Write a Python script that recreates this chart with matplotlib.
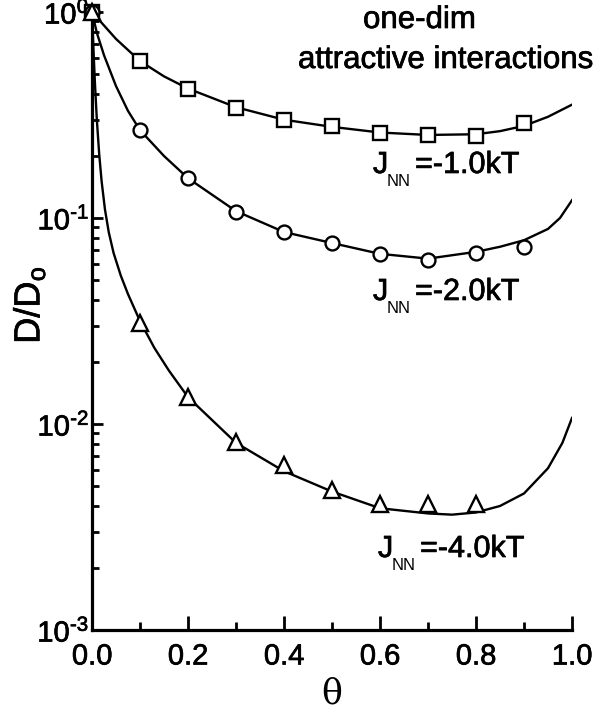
import math
import matplotlib
matplotlib.use("Agg")
import matplotlib.pyplot as plt
import matplotlib.patheffects as pe
from matplotlib.ticker import LogLocator, MultipleLocator, FuncFormatter, NullFormatter

plt.rcParams['font.family'] = ['Liberation Sans', 'DejaVu Sans']
plt.rcParams['mathtext.fontset'] = 'custom'
plt.rcParams['mathtext.rm'] = 'Liberation Sans'
plt.rcParams['mathtext.it'] = 'Liberation Sans:italic'

# --- simulation points ---
theta_sq = [0.0, 0.1, 0.2, 0.3, 0.4, 0.5, 0.6, 0.7, 0.8, 0.9]
d_sq = [1.0, 0.578, 0.423, 0.342, 0.299, 0.280, 0.259, 0.253, 0.250, 0.289]

theta_ci = [0.0, 0.1, 0.2, 0.3, 0.4, 0.5, 0.6, 0.7, 0.8, 0.9]
d_ci = [1.0, 0.267, 0.156, 0.107, 0.0855, 0.0756, 0.0669, 0.0626, 0.0676, 0.0723]

theta_tr = [0.0, 0.1, 0.2, 0.3, 0.4, 0.5, 0.6, 0.7, 0.8]
d_tr = [1.0, 0.031, 0.0135, 0.0082, 0.0063, 0.0048, 0.0041, 0.0041, 0.0041]

# --- theory curves ---
theta_c1 = [0.0, 0.05, 0.1, 0.15, 0.2, 0.3, 0.4, 0.5, 0.6, 0.7, 0.8, 0.85, 0.9,
            0.95, 1.0]
d_c1 = [1.0, 0.74, 0.578, 0.487, 0.425, 0.345, 0.300, 0.277, 0.260, 0.253, 0.255,
        0.264, 0.280, 0.310, 0.355]

theta_c2 = [0.0, 0.01, 0.025, 0.05, 0.075, 0.1, 0.15, 0.2, 0.3, 0.4, 0.5, 0.6, 0.7,
            0.8, 0.85, 0.9, 0.95, 0.975, 1.0]
d_c2 = [1.0, 0.794, 0.617, 0.437, 0.331, 0.267, 0.200, 0.156, 0.108, 0.0855, 0.0756,
        0.067, 0.0635, 0.0685, 0.0725, 0.078, 0.0885, 0.100, 0.122]

theta_c3 = [0.0, 0.003, 0.006, 0.01, 0.015, 0.02, 0.027, 0.035, 0.045, 0.06, 0.075,
            0.1, 0.13, 0.16, 0.2, 0.3, 0.4, 0.5, 0.6, 0.7, 0.75, 0.8, 0.85, 0.9,
            0.95, 0.98, 1.0]
d_c3 = [1.0, 0.661, 0.457, 0.302, 0.204, 0.151, 0.110, 0.0851, 0.0676, 0.0525,
        0.0427, 0.0316, 0.0234, 0.0182, 0.0135, 0.0081, 0.0059, 0.0047, 0.0039,
        0.00368, 0.00363, 0.00372, 0.0040, 0.0046, 0.0061, 0.0081, 0.0107]

W, H = 605, 719
fig = plt.figure(figsize=(W / 100, H / 100), dpi=100)
ax = fig.add_axes([92 / W, 89 / H, 480 / W, 618 / H])

for tx, dy in [(theta_c1, d_c1), (theta_c2, d_c2), (theta_c3, d_c3)]:
    ax.plot(tx, dy, color="black", lw=1.7)

mk = dict(ls="none", mfc="white", mec="black", mew=1.7, clip_on=False, zorder=3)
ax.plot(theta_sq, d_sq, marker="s", ms=10, **mk)
ax.plot(theta_ci, d_ci, marker="o", ms=10, **mk)
ax.plot(theta_tr, d_tr, marker="^", ms=11, **mk)

ax.set_yscale("log")
ax.set_xlim(0, 1)
ax.set_ylim(1e-3, 1)

for s in ["top", "right"]:
    ax.spines[s].set_visible(False)
for s in ["left", "bottom"]:
    ax.spines[s].set_linewidth(2.3)

ax.xaxis.set_major_locator(MultipleLocator(0.2))
ax.xaxis.set_minor_locator(MultipleLocator(0.1))
ax.xaxis.set_major_formatter(FuncFormatter(lambda v, p: f"{v:.1f}"))
ax.yaxis.set_major_locator(LogLocator(base=10, numticks=10))
ax.yaxis.set_minor_locator(LogLocator(base=10, subs=range(2, 10), numticks=10))
ax.yaxis.set_minor_formatter(NullFormatter())
ax.yaxis.set_major_formatter(FuncFormatter(
    lambda v, p: r"$\mathregular{10^{\text{%d}}}$" % round(math.log10(v))))

ax.tick_params(which="both", direction="in", width=2)
ax.tick_params(axis="x", which="major", length=10, pad=9, labelsize=21)
ax.tick_params(axis="x", which="minor", length=6)
ax.tick_params(axis="y", which="major", length=8, pad=2, labelsize=21)
ax.tick_params(axis="y", which="minor", length=5)

bold = [pe.withStroke(linewidth=0.5, foreground="black")]
for lab in ax.get_xticklabels() + ax.get_yticklabels():
    lab.set_path_effects(bold)

fig.text(29 / W, 1 - 305 / H, r"D/D$_\mathregular{o}$", rotation=90,
         ha="center", va="center", fontsize=26, path_effects=bold)
fig.text(332 / W, 1 - 693 / H, "θ", ha="center", va="center", fontsize=25,
         family=["DejaVu Serif"])

fig.text(363 / W, 1 - 28 / H, "one-dim", fontsize=22.5, va="baseline",
         path_effects=bold)
fig.text(298 / W, 1 - 68 / H, "attractive interactions", fontsize=22.5,
         va="baseline", path_effects=bold)

labels = [("=-1.0kT", 373, 173), ("=-2.0kT", 373, 300), ("=-4.0kT", 378, 557)]
for txt, x0, yb in labels:
    fig.text(x0 / W, 1 - yb / H, "J", fontsize=22, va="baseline", path_effects=bold)
    fig.text((x0 + 14) / W, 1 - (yb + 13) / H, "NN", fontsize=12, va="baseline")
    fig.text((x0 + 42) / W, 1 - yb / H, txt, fontsize=22, va="baseline",
             path_effects=bold)

fig.savefig("out.png", dpi=100)
